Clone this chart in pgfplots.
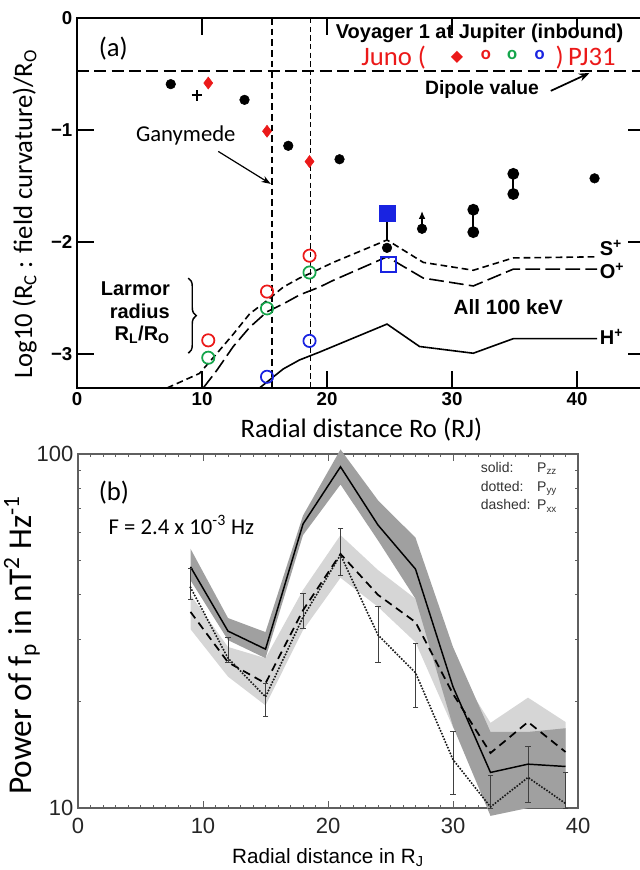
\documentclass[border=0pt]{standalone}
\usepackage{fontspec}
\setmainfont{Carlito}
\newfontfamily\helv{Liberation Sans}
\newfontfamily\dejavu{DejaVu Sans}
\usepackage{pgfplots}
\pgfplotsset{compat=1.18}
\usetikzlibrary{arrows.meta,decorations.pathreplacing}
\definecolor{junored}{RGB}{235,25,25}
\definecolor{junogreen}{RGB}{20,165,75}
\definecolor{junoblue}{RGB}{25,35,225}
\definecolor{darkband}{RGB}{160,160,160}
\definecolor{lightband}{RGB}{214,214,214}
\definecolor{frameb}{RGB}{95,95,95}

\begin{document}
\begin{tikzpicture}[x=1pt,y=1pt]
\useasboundingbox (0,0) rectangle (479.25,652.5);
%================ panel (a) ================
\begin{axis}[
  at={(57.75pt,361.5pt)}, anchor=south west,
  scale only axis, width=426.6pt, height=277.5pt,
  xmin=0, xmax=45.5, ymin=-3.3, ymax=0,
  xtick={0,10,20,30,40}, xticklabels={0,10,20,30,40},
  ytick={0,-1,-2,-3}, yticklabels={0,−1,−2,−3},
  /pgf/number format/assume math mode=true,
  tick align=inside, major tick length=13pt,
  axis line style={line width=1.5pt},
  every tick/.style={line width=1.5pt,black},
  tick label style={font=\helv\bfseries\fontsize{14}{14}\selectfont},
  clip=false,
  xlabel={Radial distance Ro (RJ)},
  ylabel={Log10 (R\textsubscript{C} : field curvature)/R\textsubscript{O}},
  label style={font=\fontsize{20}{20}\selectfont},
  xlabel style={at={(axis description cs:0.5,-0.113)},anchor=center},
  ylabel style={at={(axis description cs:-0.092,0.47)},anchor=center},
]
% dipole and moon lines
\addplot[black, line width=1.3pt, dash pattern=on 9pt off 4pt] coordinates {(0,-0.47) (45.5,-0.47)};
\addplot[black, line width=1.1pt, dash pattern=on 5pt off 3pt] coordinates {(15.6,0) (15.6,-3.3)};
\addplot[black, line width=0.7pt, dash pattern=on 4pt off 2.5pt] coordinates {(18.7,0) (18.7,-3.3)};
% Larmor radius curves
\addplot[black, line width=1.2pt, dash pattern=on 5pt off 3pt] coordinates {
 (7.2,-3.30) (9.8,-3.17) (11.2,-2.99) (12.5,-2.82) (13.8,-2.64) (15.2,-2.52) (16.5,-2.40) (17.8,-2.32) (18.6,-2.28) (20.5,-2.18) (24.8,-1.98) (27.7,-2.18) (31.7,-2.25) (34.9,-2.14) (41.6,-2.13)};
\addplot[black, line width=1.2pt, dash pattern=on 11pt off 4pt] coordinates {
 (10.1,-3.30) (11.2,-3.14) (12.5,-2.93) (13.8,-2.76) (15.2,-2.62) (16.5,-2.55) (17.8,-2.47) (19.4,-2.40) (20.5,-2.34) (24.8,-2.13) (27.7,-2.32) (31.7,-2.39) (34.9,-2.24) (41.6,-2.24)};
\addplot[black, line width=1.2pt] coordinates {
 (14.6,-3.30) (16.5,-3.13) (17.8,-3.05) (19.4,-2.98) (24.8,-2.73) (27.4,-2.93) (31.7,-2.99) (34.9,-2.86) (41.6,-2.86)};
% Voyager 1 points
\addplot[only marks, mark=*, mark size=3.6pt, black] coordinates {
 (7.5,-0.59) (13.4,-0.73) (16.9,-1.14) (21.0,-1.26) (41.4,-1.43) (24.8,-2.05) (27.6,-1.88)};
\addplot[black, line width=1.6pt, mark=*, mark size=3.6pt] coordinates {(31.7,-1.71) (31.7,-1.91)};
\addplot[black, line width=1.6pt, mark=*, mark size=3.6pt] coordinates {(34.9,-1.39) (34.9,-1.57)};
\addplot[black, line width=1.4pt, -{Latex[length=6pt,width=5pt]}] coordinates {(27.6,-1.88) (27.6,-1.72)};
\addplot[only marks, mark=+, mark size=4pt, line width=1.5pt, black] coordinates {(9.6,-0.69)};
% Juno PJ31
\addplot[only marks, mark=diamond*, mark size=4.5pt, junored, mark options={fill=junored, draw=junored}] coordinates {(10.5,-0.58) (15.2,-1.01) (18.6,-1.28)};
\addplot[only marks, mark=o, mark size=4.6pt, line width=1.3pt, junored] coordinates {(10.5,-2.875) (15.2,-2.44) (18.6,-2.12)};
\addplot[only marks, mark=o, mark size=4.6pt, line width=1.3pt, junogreen] coordinates {(10.5,-3.03) (15.2,-2.59) (18.6,-2.27)};
\addplot[only marks, mark=o, mark size=4.6pt, line width=1.3pt, junoblue] coordinates {(15.2,-3.2) (18.6,-2.88)};
\addplot[black, line width=1.4pt] coordinates {(24.8,-1.74) (24.8,-1.98)};
\addplot[only marks, mark=square*, mark size=6pt, junoblue] coordinates {(24.8,-1.74)};
\addplot[only marks, mark=square, mark size=5.6pt, line width=1.8pt, junoblue] coordinates {(24.9,-2.2)};
% annotations
\node[font=\fontsize{20}{20}\selectfont] at (axis cs:2.9,-0.27) {(a)};
\node[font=\helv\bfseries\fontsize{15}{15}\selectfont] at (axis cs:32.2,-0.134) {Voyager 1 at Jupiter (inbound)};
\node[font=\fontsize{20}{20}\selectfont, text=junored, anchor=east] at (axis cs:28.3,-0.35) {Juno (};
\node[font=\dejavu\fontsize{12}{12}\selectfont, text=junored] at (axis cs:30.4,-0.35) {◆};
\node[font=\bfseries\fontsize{14}{14}\selectfont, text=junored] at (axis cs:32.7,-0.33) {o};
\node[font=\bfseries\fontsize{14}{14}\selectfont, text=junogreen] at (axis cs:34.8,-0.33) {o};
\node[font=\bfseries\fontsize{14}{14}\selectfont, text=junoblue] at (axis cs:37.0,-0.33) {o};
\node[font=\fontsize{20}{20}\selectfont, text=junored, anchor=west] at (axis cs:37.9,-0.35) {)\,PJ31};
\node[font=\helv\bfseries\fontsize{14.5}{14.5}\selectfont] at (axis cs:32.4,-0.64) {Dipole value};
\draw[-{Stealth[length=8pt,width=6pt]}, line width=1.3pt] (axis cs:37.9,-0.65) -- (axis cs:41.0,-0.49);
\node[font=\fontsize{17}{17}\selectfont] at (axis cs:8.7,-1.05) {Ganymede};
\draw[-{Stealth[length=7pt,width=5pt]}, line width=0.9pt] (axis cs:11.3,-1.19) -- (axis cs:15.5,-1.48);
\node[font=\helv\bfseries\fontsize{15}{17}\selectfont, align=right, anchor=east] at (axis cs:7.8,-2.63) {Larmor\\radius\\R\textsubscript{L}/R\textsubscript{O}};
\draw[decorate, decoration={brace, amplitude=6pt}, line width=1.1pt] (axis cs:8.9,-2.32) -- (axis cs:8.9,-2.99);
\node[font=\helv\bfseries\fontsize{15.5}{15.5}\selectfont] at (axis cs:34.5,-2.58) {All 100 keV};
\node[font=\helv\bfseries\fontsize{15}{15}\selectfont, anchor=west, inner sep=1pt] at (axis cs:41.7,-2.05) {S\textsuperscript{+}};
\node[font=\helv\bfseries\fontsize{15}{15}\selectfont, anchor=west, inner sep=1pt] at (axis cs:41.7,-2.26) {O\textsuperscript{+}};
\node[font=\helv\bfseries\fontsize{15}{15}\selectfont, anchor=west, inner sep=1pt] at (axis cs:41.7,-2.84) {H\textsuperscript{+}};
\end{axis}
%================ panel (b) ================
\begin{axis}[
  at={(58.5pt,46.5pt)}, anchor=south west,
  scale only axis, width=375pt, height=265.5pt,
  xmin=0, xmax=40, ymin=10, ymax=100, ymode=log,
  xtick={0,10,20,30,40}, xticklabels={0,10,20,30,40}, minor x tick num=9,
  ytick={10,100}, yticklabels={10,100},
  minor ytick={20,30,40,50,60,70,80,90},
  /pgf/number format/assume math mode=true,
  tick align=inside, major tick length=5pt, minor tick length=2.6pt,
  axis line style={frameb, line width=0.8pt},
  every tick/.style={frameb, line width=0.6pt},
  tick label style={font=\helv\fontsize{16.5}{16.5}\selectfont, text=black!85},
  xticklabel style={yshift=-4pt},
  clip=false,
  xlabel={Radial distance in R\textsubscript{J}},
  ylabel={Power of f\textsubscript{p} in nT\textsuperscript{2} Hz\textsuperscript{-1}},
  xlabel style={font=\helv\fontsize{15.5}{15.5}\selectfont, at={(axis description cs:0.5,-0.141)}, anchor=center},
  ylabel style={font=\fontsize{25}{25}\selectfont, at={(axis description cs:-0.112,0.46)}, anchor=center},
]
\addplot[draw=none, fill=lightband] coordinates {
 (9,40) (12,28.5) (15,26.5) (18,41.3) (21,59) (24,47) (27,39) (30,25.7) (33,17.4) (36,20.5) (39,17.5)
 (39,12) (36,13) (33,11.5) (30,16.9) (27,29.4) (24,37) (21,44.7) (18,31.8) (15,19.5) (12,23.5) (9,32)};
\addplot[draw=none, fill=darkband] coordinates {
 (9,54) (12,34.4) (15,31.4) (18,67) (21,103) (24,74) (27,58) (30,28.5) (33,16.4) (36,16.4) (39,16.8)
 (39,10) (36,10) (33,9.5) (30,17) (27,39) (24,57) (21,82) (18,59) (15,26.5) (12,29.8) (9,44)};
% error bars of P_yy
\addplot[black!75, line width=0.6pt, mark=-, mark size=2.2pt, unbounded coords=jump] coordinates {
 (9,38.9) (9,47.6) (9,nan) (12,25.8) (12,30.4) (12,nan) (15,18.1) (15,22.5) (15,nan)
 (18,32.2) (18,40.4) (18,nan) (21,45.5) (21,61.8) (21,nan) (24,25.7) (24,37) (24,nan)
 (27,19.2) (27,29.2) (27,nan) (30,10.9) (30,16.5) (30,nan) (33,10) (33,12.4) (33,nan)
 (36,10.4) (36,14.9) (36,nan) (39,10) (39,12.6)};
% P_zz solid
\addplot[black, line width=1.1pt] coordinates {
 (9,48) (12,31.6) (15,28.1) (18,63.4) (21,92) (24,63) (27,47.3) (30,22) (33,12.6) (36,13.3) (39,13.1)};
% P_xx dashed
\addplot[black, line width=1.3pt, dash pattern=on 6pt off 4pt] coordinates {
 (9,35.8) (12,25.8) (15,22.5) (18,36.2) (21,52.2) (24,40) (27,33.5) (30,21) (33,14.3) (36,17.5) (39,14.4)};
% P_yy dotted
\addplot[black!90, line width=1.7pt, line cap=round, dash pattern=on 0pt off 2.3pt] coordinates {
 (9,42) (12,26.5) (15,20.6) (18,34.6) (21,51.9) (24,30.8) (27,24.1) (30,13.7) (33,10.07) (36,12.2) (39,10.3)};
\node[font=\fontsize{20}{20}\selectfont] at (rel axis cs:0.072,0.89) {(b)};
\node[font=\fontsize{17}{17}\selectfont, anchor=west] at (rel axis cs:0.052,0.80) {F = 2.4 x 10\textsuperscript{-3} Hz};
\node[anchor=north west, inner sep=0pt, font=\helv\fontsize{10.5}{14}\selectfont, text=black!80] at (rel axis cs:0.805,0.985)
 {\begin{tabular}{@{}l@{\hspace{5pt}}l@{}}solid: & P\textsubscript{zz}\\ dotted: & P\textsubscript{yy}\\ dashed: & P\textsubscript{xx}\end{tabular}};
\end{axis}
\end{tikzpicture}
\end{document}
